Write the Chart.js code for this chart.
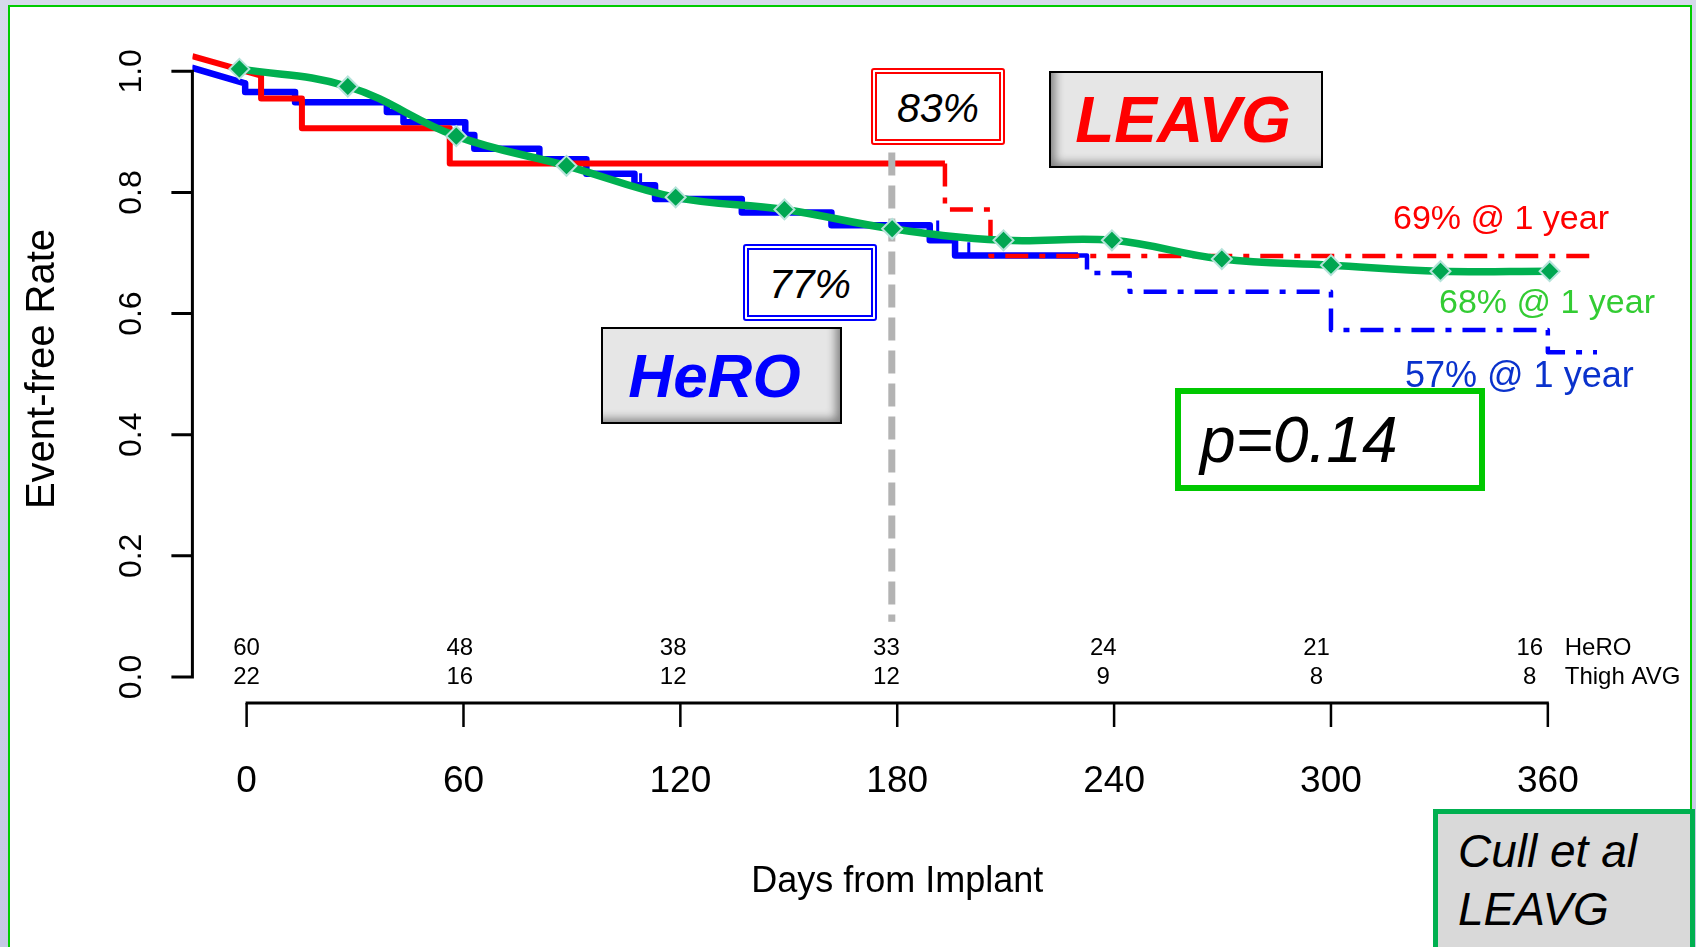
<!DOCTYPE html>
<html>
<head>
<meta charset="utf-8">
<script src="https://cdn.jsdelivr.net/npm/chart.js@4.4.1/dist/chart.umd.min.js"></script>
<style>
  html, body { margin: 0; padding: 0; }
  body {
    width: 1696px; height: 947px; overflow: hidden; position: relative;
    background: linear-gradient(#d6d9eb, #c5c8e4);
    font-family: "Liberation Sans", Arial, sans-serif;
  }
  #panel { position: absolute; left: 8px; top: 5px; width: 1680px; height: 960px; background: #fff; border: 2px solid #00cc00; }
  #chart { position: absolute; left: 0; top: 0; }
  .box { position: absolute; box-sizing: border-box; display: flex; align-items: center; justify-content: center; white-space: nowrap; }
  .note { position: absolute; white-space: nowrap; line-height: 1; }
  #b83 { left: 871px; top: 68px; width: 134px; height: 77px; border: 6px double #ff0000; border-radius: 3px; background: #fff; font: italic 41px "Liberation Sans", Arial, sans-serif; padding-top: 3px; }
  #b77 { left: 743px; top: 244px; width: 134px; height: 77px; border: 6px double #0000ff; border-radius: 3px; background: #fff; font: italic 41px "Liberation Sans", Arial, sans-serif; padding-top: 3px; }
  #bLeavg { left: 1049px; top: 71px; width: 274px; height: 97px; border: 2.5px solid #000; background: #e6e6e6;
            box-shadow: inset 12px -11px 10px -8px rgba(0,0,0,0.45); color: #ff0000; font: italic bold 64px "Liberation Sans", Arial, sans-serif; padding-right: 6px; }
  #bHero { left: 601px; top: 327px; width: 241px; height: 97px; border: 2.5px solid #000; background: #e6e6e6;
           box-shadow: inset -12px -11px 10px -8px rgba(0,0,0,0.45); color: #0000ff; font: italic bold 62px "Liberation Sans", Arial, sans-serif; padding-right: 14px; }
  #bP { left: 1175px; top: 388px; width: 310px; height: 103px; border: 6px solid #00c800; background: #fff; justify-content: flex-start; padding-left: 19px;
        font: italic 64px "Liberation Sans", Arial, sans-serif; }
  #bCull { left: 1433px; top: 809px; width: 262px; height: 150px; border: 5px solid #00b050; background: #d9d9d9; display: block; padding: 9px 0 0 20px;
           font: italic 46px "Liberation Sans", Arial, sans-serif; line-height: 57.7px; }
  #n69 { left: 1393px; top: 200px; font-size: 34px; color: #ff0000; }
  #n68 { left: 1439px; top: 284px; font-size: 34px; color: #33cc33; }
  #n57 { left: 1405px; top: 357px; font-size: 36px; color: #0a32cc; }
</style>
</head>
<body>
<div id="panel"></div>
<canvas id="chart" width="1696" height="947"></canvas>
<div class="box" id="b83">83%</div>
<div class="box" id="b77">77%</div>
<div class="box" id="bLeavg">LEAVG</div>
<div class="box" id="bHero">HeRO</div>
<div class="box" id="bP">p=0.14</div>
<div class="box" id="bCull">Cull et al<br>LEAVG</div>
<div class="note" id="n69">69% @ 1 year</div>
<div class="note" id="n68">68% @ 1 year</div>
<div class="note" id="n57">57% @ 1 year</div>
<script>
const FONT = '"Liberation Sans", Arial, sans-serif';

const xTicks = [0, 60, 120, 180, 240, 300, 360];
const xTickLabels = ["0", "60", "120", "180", "240", "300", "360"];
const yTicks = [0, 0.2, 0.4, 0.6, 0.8, 1.0];
const yTickLabels = ["0.0", "0.2", "0.4", "0.6", "0.8", "1.0"];

// numbers at risk
const riskDays = [0, 59, 118, 177, 237, 296, 355];
const heroRisk = [60, 48, 38, 33, 24, 21, 16];
const avgRisk = [22, 16, 12, 12, 9, 8, 8];

// HeRO (blue) KM curve
const heroLeadDays = [-15.2, -0.4];
const heroLeadVals = [1.006, 0.980];
const heroDays = [-0.4, 13.4, 38.8, 43.4, 60.5, 63, 81, 94, 107.3, 113, 137, 161.8, 189, 196, 232.5, 244.3, 300, 360];
const heroVals = [0.966, 0.949, 0.933, 0.916, 0.895, 0.872, 0.855, 0.831, 0.812, 0.789, 0.767, 0.746, 0.721, 0.696, 0.667, 0.636, 0.573, 0.536];
const heroEnd = 373.6;
const heroDashFrom = 230;
const heroCensorDays = [-0.4, 109, 191.2, 199.8];
const heroCensorVals = [0.975, 0.822, 0.744, 0.708];

// Thigh AVG / LEAVG (red) KM curve
const avgLeadDays = [-15, 4];
const avgLeadVals = [1.025, 0.993];
const avgDays = [4, 15.3, 56.2, 193.2, 205.8];
const avgVals = [0.955, 0.906, 0.848, 0.772, 0.695];
const avgEnd = 374;
const avgDashFrom = 193.2;

// pooled (green) curve
const greenDays = [-2, 28, 58, 88.5, 118.7, 148.8, 178.6, 209.4, 239.4, 269.8, 300, 330.3, 360.5];
const greenVals = [1.004, 0.975, 0.893, 0.844, 0.792, 0.772, 0.740, 0.721, 0.721, 0.690, 0.680, 0.670, 0.670];

// 6-month marker
const markDays = [178.5, 178.5];
const markVals = [0.866, 0.091];

function pts(xs, ys) {
  return xs.map((x, i) => ({ x: x, y: ys[i] }));
}

function kmPoints(leadDays, leadVals, days, vals, end) {
  const out = pts(leadDays, leadVals);
  let prev = leadVals[leadVals.length - 1];
  days.forEach((d, i) => {
    out.push({ x: d, y: prev });
    out.push({ x: d, y: vals[i] });
    prev = vals[i];
  });
  out.push({ x: end, y: prev });
  return out;
}

function splitAt(points, cut) {
  const k = points.findIndex(p => p.x >= cut);
  if (points[k].x === cut) {
    return [points.slice(0, k + 1), points.slice(k)];
  }
  const mid = { x: cut, y: points[k - 1].y };
  return [points.slice(0, k).concat([mid]), [mid].concat(points.slice(k))];
}

const heroParts = splitAt(kmPoints(heroLeadDays, heroLeadVals, heroDays, heroVals, heroEnd), heroDashFrom);
const avgParts = splitAt(kmPoints(avgLeadDays, avgLeadVals, avgDays, avgVals, avgEnd), avgDashFrom);

const dashDot = [23, 11, 6, 11];

const rAxes = {
  id: "rAxes",
  afterDraw(chart) {
    const { ctx, chartArea, scales } = chart;
    const x = scales.x;
    const y = scales.y;
    ctx.save();
    ctx.strokeStyle = "#000";
    ctx.fillStyle = "#000";

    // y axis, R style
    const yl = chartArea.left;
    ctx.lineWidth = 3;
    ctx.beginPath();
    ctx.moveTo(yl, y.getPixelForValue(0));
    ctx.lineTo(yl, y.getPixelForValue(1));
    yTicks.forEach(v => {
      const py = y.getPixelForValue(v);
      ctx.moveTo(yl - 21, py);
      ctx.lineTo(yl + 1.5, py);
    });
    ctx.stroke();

    ctx.font = "32px " + FONT;
    ctx.textAlign = "center";
    ctx.textBaseline = "alphabetic";
    yTicks.forEach((v, i) => {
      ctx.save();
      ctx.translate(yl - 51, y.getPixelForValue(v));
      ctx.rotate(-Math.PI / 2);
      ctx.fillText(yTickLabels[i], 0, 0);
      ctx.restore();
    });

    // x axis
    const xb = chartArea.bottom;
    ctx.lineWidth = 3;
    ctx.beginPath();
    ctx.moveTo(x.getPixelForValue(xTicks[0]) - 1, xb);
    ctx.lineTo(x.getPixelForValue(xTicks[xTicks.length - 1]) + 1, xb);
    ctx.stroke();
    ctx.lineWidth = 2.5;
    ctx.beginPath();
    xTicks.forEach(v => {
      const px = x.getPixelForValue(v);
      ctx.moveTo(px, xb);
      ctx.lineTo(px, xb + 24);
    });
    ctx.stroke();

    ctx.font = "36px " + FONT;
    const mid = (x.getPixelForValue(xTicks[0]) + x.getPixelForValue(xTicks[xTicks.length - 1])) / 2;
    ctx.fillText("Days from Implant", mid, 892);

    // numbers at risk
    ctx.font = "24px " + FONT;
    riskDays.forEach((d, i) => {
      const px = x.getPixelForValue(d);
      ctx.fillText(String(heroRisk[i]), px, 655);
      ctx.fillText(String(avgRisk[i]), px, 684);
    });
    ctx.textAlign = "left";
    const lx = x.getPixelForValue(riskDays[riskDays.length - 1]) + 35;
    ctx.fillText("HeRO", lx, 655);
    ctx.fillText("Thigh AVG", lx, 684);
    ctx.restore();
  }
};

const line = (data, color, width, extra) => Object.assign({
  data: data,
  borderColor: color,
  borderWidth: width,
  pointRadius: 0,
  fill: false,
  tension: 0,
  borderJoinStyle: "round"
}, extra || {});

new Chart(document.getElementById("chart").getContext("2d"), {
  type: "line",
  data: {
    datasets: [
      line(pts(greenDays, greenVals), "#00b050", 7.5, {
        tension: 0.4,
        pointStyle: "rectRot",
        pointRadius: 10,
        pointBackgroundColor: "#00a651",
        pointBorderColor: "#b5e3da",
        pointBorderWidth: 2
      }),
      line(pts(markDays, markVals), "#b3b3b3", 7, { borderDash: [23, 10] }),
      line(avgParts[0], "#ff0000", 6),
      line(avgParts[1], "#ff0000", 4.5, { borderDash: dashDot }),
      line(pts(heroCensorDays, heroCensorVals), "#0000ff", 0, {
        showLine: false,
        pointStyle: "line",
        rotation: 90,
        pointRadius: 6,
        pointBorderWidth: 3,
        pointBorderColor: "#0000ff"
      }),
      line(heroParts[0], "#0000ff", 6.5),
      line(heroParts[1], "#0000ff", 4.5, { borderDash: dashDot })
    ]
  },
  options: {
    responsive: false,
    animation: false,
    layout: {
      padding: { left: 10, right: 57.8, top: 35, bottom: 0 }
    },
    plugins: {
      legend: { display: false },
      tooltip: { enabled: false }
    },
    scales: {
      x: {
        type: "linear",
        min: -15,
        max: 385,
        afterBuildTicks: s => { s.ticks = xTicks.map(v => ({ value: v })); },
        afterFit: s => { s.height = 244; },
        grid: { display: false, drawTicks: false },
        border: { display: false },
        ticks: {
          autoSkip: false,
          maxRotation: 0,
          padding: 57,
          color: "#000",
          font: { size: 37, family: FONT, lineHeight: 1.2 },
          callback: (v, i) => xTickLabels[i]
        }
      },
      y: {
        min: -0.043,
        max: 1.06,
        afterFit: s => { s.width = 182.4; },
        grid: { display: false, drawTicks: false },
        border: { display: false },
        ticks: { display: false },
        title: {
          display: true,
          text: "Event-free Rate",
          color: "#000",
          font: { size: 40, family: FONT, lineHeight: 1 },
          padding: { top: 13, bottom: 0 }
        }
      }
    }
  },
  plugins: [rAxes]
});
</script>
</body>
</html>
